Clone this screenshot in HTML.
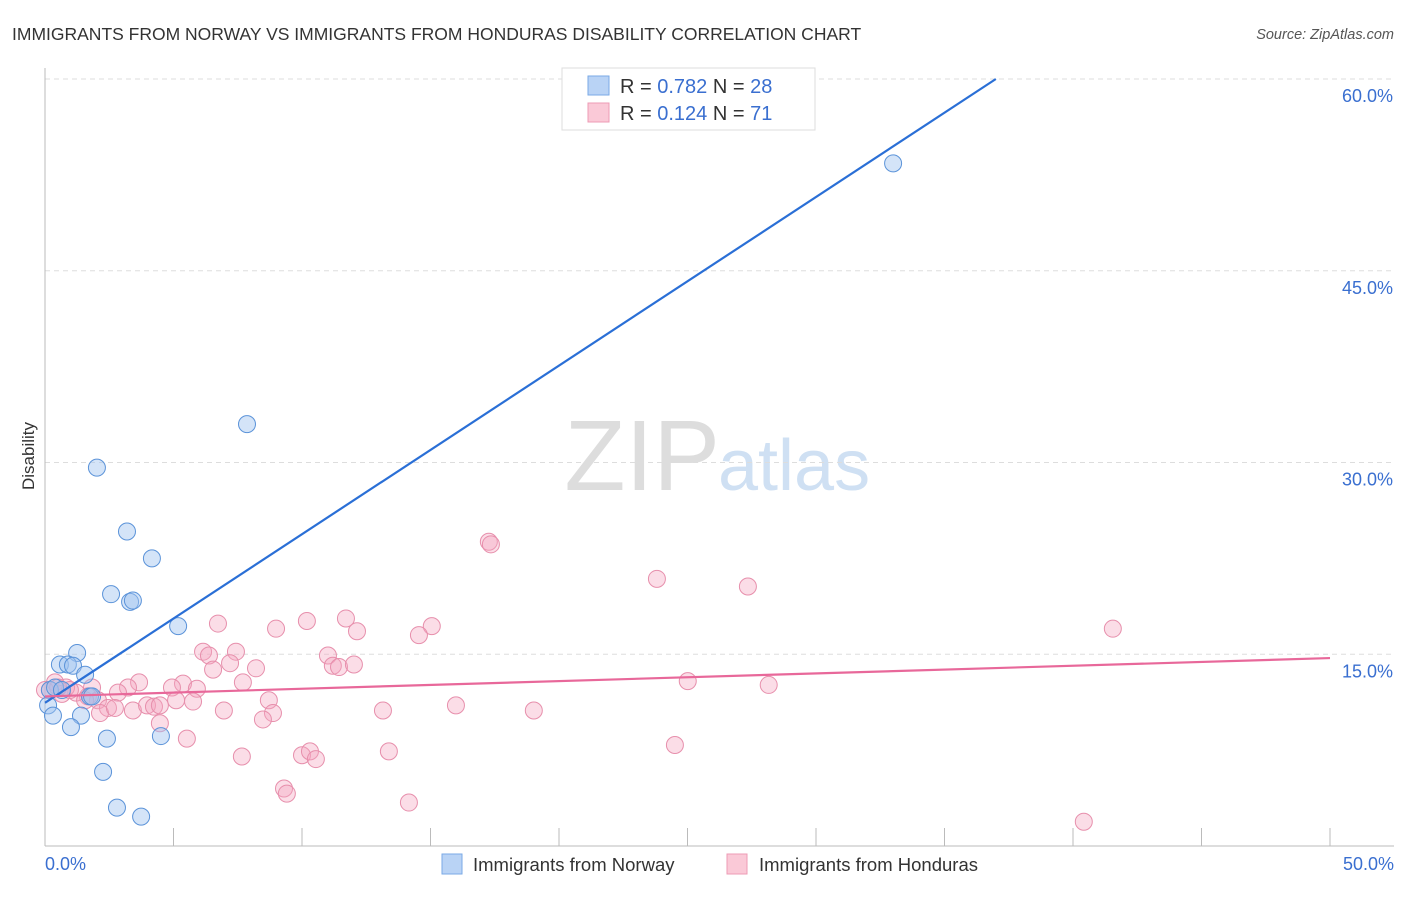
<!DOCTYPE html>
<html><head><meta charset="utf-8"><style>
body{margin:0;background:#fff;font-family:"Liberation Sans",sans-serif;}
svg text{font-family:"Liberation Sans",sans-serif;}
</style></head><body>
<svg id="chart" width="1406" height="892" xmlns="http://www.w3.org/2000/svg">
<text x="12" y="40" font-size="17.5" fill="#333">IMMIGRANTS FROM NORWAY VS IMMIGRANTS FROM HONDURAS DISABILITY CORRELATION CHART</text>
<text x="1394" y="39" font-size="14.5" fill="#555" font-style="italic" text-anchor="end">Source: ZipAtlas.com</text>
<text transform="translate(34,456) rotate(-90)" font-size="17" fill="#333" text-anchor="middle">Disability</text>
<text x="720" y="490" font-size="100" text-anchor="end" fill="#ddd" font-family="Liberation Serif">ZIP</text>
<text x="718" y="490" font-size="72" fill="#cfe0f3">atlas</text>
<g id="grid"></g><g id="axes"></g><g id="pts"></g><g id="lines"></g>
<g>
<rect x="562" y="68" width="253" height="62" fill="#fff" stroke="#ddd"/>
<rect x="588" y="76" width="21" height="19" fill="#b9d3f5" stroke="#7aaae6"/>
<rect x="588" y="103" width="21" height="19" fill="#fac9d7" stroke="#ee9bb4"/>
<text x="620" y="93" font-size="20" fill="#333">R = <tspan fill="#3a6fd0">0.782</tspan>   N = <tspan fill="#3a6fd0">28</tspan></text>
<text x="620" y="120" font-size="20" fill="#333">R =  <tspan fill="#3a6fd0">0.124</tspan>   N =  <tspan fill="#3a6fd0">71</tspan></text>
</g>
<g>
<rect x="442" y="854" width="20" height="20" fill="#b9d3f5" stroke="#7aaae6"/>
<text x="473" y="871" font-size="18.5" fill="#333">Immigrants from Norway</text>
<rect x="727" y="854" width="20" height="20" fill="#fac9d7" stroke="#ee9bb4"/>
<text x="759" y="871" font-size="18.5" fill="#333">Immigrants from Honduras</text>
</g>
</svg>
<script>
const yTicks=[15,30,45,60];
const yTickLabels=["15.0%","30.0%","45.0%","60.0%"];
const xTickLabels=["0.0%","50.0%"];
const norwayX=[33.0,7.86,2.02,3.19,4.16,2.57,3.31,3.42,5.18,1.25,0.58,0.89,1.09,1.56,0.19,0.39,0.66,1.75,0.12,0.31,1.40,1.01,2.41,4.51,2.26,2.80,3.74,1.83];
const norwayY=[53.4,33.0,29.6,24.6,22.5,19.7,19.1,19.2,17.2,15.1,14.2,14.2,14.1,13.4,12.2,12.4,12.2,11.7,11.0,10.2,10.2,9.3,8.4,8.6,5.8,3.0,2.3,11.7];
const hondurasX=[17.27,17.35,23.81,27.35,41.55,6.73,10.19,11.71,15.05,8.99,12.14,14.55,6.15,6.38,7.43,11.01,11.20,11.44,12.02,8.21,7.20,6.54,3.66,5.37,4.94,5.91,7.70,3.23,2.84,1.83,1.67,1.21,0.82,0.39,0.19,0.66,0.97,2.06,2.45,2.14,3.42,3.97,4.24,5.76,5.10,6.96,8.71,8.87,8.48,13.15,15.99,19.02,25.01,28.16,4.47,5.52,7.66,10.0,10.31,10.54,13.38,24.51,9.30,9.41,14.16,40.42,4.47,2.72,1.56,0.0,0.51];
const hondurasY=[23.8,23.6,20.9,20.3,17.0,17.4,17.6,17.8,17.2,17.0,16.8,16.5,15.2,14.9,15.2,14.9,14.1,14.0,14.2,13.9,14.3,13.8,12.8,12.7,12.4,12.3,12.8,12.4,12.0,12.4,11.7,12.0,12.4,12.8,12.2,11.9,12.2,11.4,10.8,10.4,10.6,11.0,10.9,11.3,11.4,10.6,11.4,10.4,9.9,10.6,11.0,10.6,12.9,12.6,9.6,8.4,7.0,7.1,7.4,6.8,7.4,7.9,4.5,4.1,3.4,1.9,11.0,10.8,11.4,12.2,12.4];
const norwayTrend=[11.2,1.319];
const hondurasTrend=[11.7,0.06];
const NS="http://www.w3.org/2000/svg";
const X=v=>45+v/50*1285, Y=v=>846-v/60*767;
function mk(p,t,a){const e=document.createElementNS(NS,t);for(const k in a)e.setAttribute(k,a[k]);document.getElementById(p).appendChild(e);return e;}
yTicks.forEach((t,i)=>{
 const g=mk('grid','line',{x1:45,x2:1394,y1:Y(t),y2:Y(t),stroke:'#ddd','stroke-dasharray':'5,4'});
 
 
 const l=mk('axes','text',{x:1393,y:Y(t)+23,'font-size':18,fill:'#3a6fd0','text-anchor':'end'});
 l.textContent=yTickLabels[i];
 
 
});
const ax=mk('axes','line',{x1:45,x2:45,y1:68,y2:846,stroke:'#bbb'});


const bx=mk('axes','line',{x1:45,x2:1394,y1:846,y2:846,stroke:'#bbb'});


for(let i=1;i<=10;i++){const t=mk('axes','line',{x1:X(i*5),x2:X(i*5),y1:828,y2:846,stroke:'#bbb'});
 
 }
[[0,'start',45],[50,'end',1394]].forEach((d,i)=>{const l=mk('axes','text',{x:d[2],y:870,'font-size':18,fill:'#3a6fd0','text-anchor':d[1]});l.textContent=xTickLabels[i];
 
 });
hondurasX.forEach((x,i)=>{const c=mk('pts','circle',{cx:X(x),cy:Y(hondurasY[i]),r:8.5,fill:'rgba(244,165,192,0.38)',stroke:'#e78fac','stroke-width':1});
 
 });
norwayX.forEach((x,i)=>{const c=mk('pts','circle',{cx:X(x),cy:Y(norwayY[i]),r:8.5,fill:'rgba(160,196,240,0.45)',stroke:'#5b93d9','stroke-width':1});
 
 });
const nEnd=(60-norwayTrend[0])/norwayTrend[1];
const l1=mk('lines','line',{x1:X(0),y1:Y(norwayTrend[0]),x2:X(nEnd),y2:Y(60),stroke:'#2a6fd6','stroke-width':2.2});


const l2=mk('lines','line',{x1:X(0),y1:Y(hondurasTrend[0]),x2:X(50),y2:Y(hondurasTrend[0]+hondurasTrend[1]*50),stroke:'#e8689a','stroke-width':2.2});


</script>
</body></html>
